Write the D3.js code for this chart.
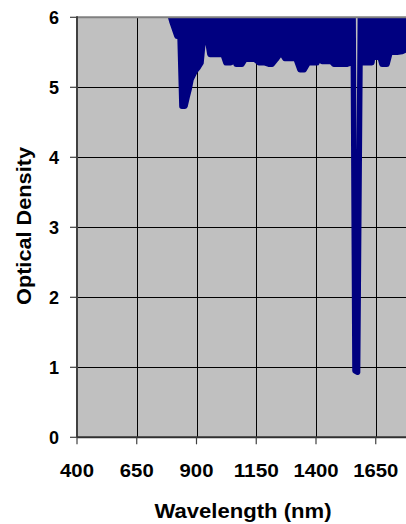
<!DOCTYPE html>
<html><head><meta charset="utf-8">
<script src="https://cdn.jsdelivr.net/npm/d3@7"></script>
<style>html,body{margin:0;padding:0;background:#fff}svg{display:block}</style>
</head><body>
<script>
const wavelength = [775,797,818,831,839,852,860,869,877,894,906,919,927,948,956,982,1011,1023,1044,1053,1065,1090,1103,1145,1161,1187,1203,1216,1233,1254,1270,1316,1333,1350,1367,1404,1413,1425,1463,1475,1530,1546,1555,1563,1574,1586,1597,1634,1639,1647,1668,1676,1697,1710,1739,1760,1777,1800];
const opticalDensity = [6.2,5.94,5.73,5.73,4.73,4.73,4.85,4.97,5.11,5.23,5.28,5.35,5.64,5.64,5.47,5.47,5.47,5.35,5.35,5.61,5.33,5.33,5.40,5.40,5.35,5.35,5.33,5.33,5.40,5.50,5.41,5.41,5.25,5.25,5.35,5.35,5.44,5.37,5.37,5.33,5.33,5.35,6.2,0.95,0.93,6.2,5.35,5.35,5.50,5.43,5.43,5.33,5.33,5.50,5.50,5.51,5.54,5.54];
const xTicks = [400,650,900,1150,1400,1650];
const yTicks = [0,1,2,3,4,5,6];
const xTitle = "Wavelength (nm)";
const yTitle = "Optical Density";

const W = 406, H = 524;
const L = 77, T = 17.3, B = 437.3;
const x = d3.scaleLinear().domain([400,1900]).range([L, L + 6*59.75]);
const y = d3.scaleLinear().domain([0,6]).range([B, T]);
const data = wavelength.map((w,i)=>({w, v: opticalDensity[i]}));

const svg = d3.select("body").append("svg").attr("width",W).attr("height",H);
svg.append("defs").append("clipPath").attr("id","clip")
  .append("rect").attr("x",L).attr("y",T).attr("width",W-L).attr("height",B-T);

svg.append("rect").attr("x",L).attr("y",T).attr("width",W-L).attr("height",B-T).attr("fill","#c0c0c0");

// gridlines
const g = svg.append("g").attr("clip-path","url(#clip)");
g.selectAll(".hg").data(yTicks.filter(t=>t>0&&t<6)).join("line")
  .attr("x1",L).attr("x2",W).attr("y1",d=>Math.round(y(d))+0.5).attr("y2",d=>Math.round(y(d))+0.5)
  .attr("stroke","#000").attr("stroke-width",1);
g.selectAll(".vg").data(xTicks.filter(t=>t>400)).join("line")
  .attr("x1",d=>Math.round(x(d))+0.5).attr("x2",d=>Math.round(x(d))+0.5).attr("y1",T).attr("y2",B)
  .attr("stroke","#000").attr("stroke-width",1);

// data
const navy = "#000080";
const area = d3.area().defined(d=>d.v>=2).x(d=>x(d.w)).y0(y(6.5)).y1(d=>y(d.v));
g.append("path").datum(data).attr("d",area).attr("fill",navy);
const line = d3.line().x(d=>x(d.w)).y(d=>y(d.v));
g.append("path").datum(data).attr("d",line).attr("fill","none").attr("stroke",navy)
  .attr("stroke-width",5.5).attr("stroke-linejoin","round").attr("stroke-linecap","round");

// frame
svg.append("line").attr("x1",L).attr("x2",W).attr("y1",T).attr("y2",T).attr("stroke","#808080").attr("stroke-width",2);
svg.append("line").attr("x1",L).attr("x2",L).attr("y1",T-1).attr("y2",B).attr("stroke","#404040").attr("stroke-width",2);
svg.append("line").attr("x1",L).attr("x2",W).attr("y1",B).attr("y2",B).attr("stroke","#303030").attr("stroke-width",2);

// ticks
svg.selectAll(".yt").data(yTicks).join("line")
  .attr("x1",L-7).attr("x2",L).attr("y1",d=>y(d)).attr("y2",d=>y(d)).attr("stroke","#404040").attr("stroke-width",1.2);
svg.selectAll(".xt").data(xTicks).join("line")
  .attr("x1",d=>x(d)).attr("x2",d=>x(d)).attr("y1",B).attr("y2",B+7).attr("stroke","#404040").attr("stroke-width",1.2);

const font = "'Liberation Sans', Arial, sans-serif";
svg.selectAll(".yl").data(yTicks).join("text")
  .attr("x",59).attr("y",d=>y(d)).attr("dy","0.36em").attr("text-anchor","end")
  .attr("font-family",font).attr("font-weight","bold").attr("font-size",18).text(d=>d);
svg.selectAll(".xl").data(xTicks).join("text")
  .attr("x",d=>x(d)).attr("y",477).attr("text-anchor","middle")
  .attr("font-family",font).attr("font-weight","bold").attr("font-size",18)
  .attr("textLength",d=>String(d).length*11.3).attr("lengthAdjust","spacingAndGlyphs").text(d=>d);
svg.append("text").attr("x",243).attr("y",518).attr("text-anchor","middle")
  .attr("font-family",font).attr("font-weight","bold").attr("font-size",20)
  .attr("textLength",177).attr("lengthAdjust","spacingAndGlyphs").text(xTitle);
svg.append("text").attr("transform","translate(31,226) rotate(-90)").attr("text-anchor","middle")
  .attr("font-family",font).attr("font-weight","bold").attr("font-size",21)
  .attr("textLength",158).attr("lengthAdjust","spacingAndGlyphs").text(yTitle);
</script>
</body></html>
